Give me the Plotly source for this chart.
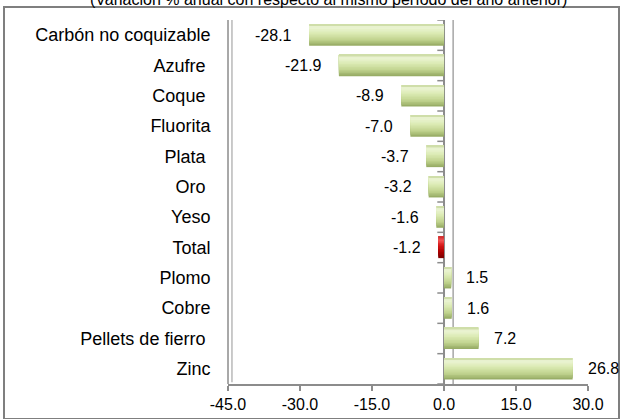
import plotly.graph_objects as go

categories = ["Carbón no coquizable", "Azufre ", "Coque ", "Fluorita", "Plata ", "Oro ",
              "Yeso", "Total", "Plomo", "Cobre", "Pellets de fierro ", "Zinc"]
values = [-28.1, -21.9, -8.9, -7.0, -3.7, -3.2, -1.6, -1.2, 1.5, 1.6, 7.2, 26.8]
x_ticks = [-45.0, -30.0, -15.0, 0.0, 15.0, 30.0]
title_text = "(Variación % anual con respecto al mismo período del año anterior)"

FONT = "Liberation Sans, Arial, sans-serif"
FS_CAT = 18
FS_NUM = 16

# vertical gradient stops (position from top, colour) for cylinder look
green_stops = [(0.0, (195, 212, 150)), (0.12, (236, 245, 214)), (0.4, (220, 235, 180)),
               (0.72, (192, 211, 142)), (1.0, (146, 168, 96))]
red_stops = [(0.0, (200, 40, 40)), (0.15, (245, 90, 90)), (0.4, (215, 25, 25)),
             (0.7, (175, 0, 0)), (1.0, (120, 0, 0))]


def interp(stops, t):
    for (p0, c0), (p1, c1) in zip(stops[:-1], stops[1:]):
        if p0 <= t <= p1:
            f = (t - p0) / (p1 - p0) if p1 > p0 else 0
            c = [round(a + (b - a) * f) for a, b in zip(c0, c1)]
            return "rgb(%d,%d,%d)" % tuple(c)
    return "rgb(%d,%d,%d)" % stops[-1][1]


idx = list(range(len(categories)))
W = 0.7
N = 14
fig = go.Figure()
# transparent helper trace so the outer frame subplot (x/y) exists
fig.add_trace(go.Scatter(x=[0.5], y=[0.5], xaxis="x", yaxis="y", mode="markers",
                         marker=dict(opacity=0), showlegend=False, hoverinfo="skip"))
for k in range(N):
    t = (N - k - 0.5) / N
    cols = [interp(red_stops if c.strip() == "Total" else green_stops, t) for c in categories]
    fig.add_trace(go.Bar(
        x=values, y=idx, orientation="h", xaxis="x2", yaxis="y2",
        width=W * (N - k) / N, offset=-W / 2,
        marker=dict(color=cols, line=dict(width=0)),
        hoverinfo="skip" if k else "x+y", showlegend=False,
    ))

# data labels
for i, v in enumerate(values):
    fig.add_annotation(
        x=v, y=i, xref="x2", yref="y2", text="%.1f" % v, showarrow=False,
        xanchor="right" if v < 0 else "left", xshift=-15 if v < 0 else 13,
        font=dict(family=FONT, size=FS_NUM, color="black"),
    )

shapes = []
gray = "#8c8c8c"
# zero wall lines
shapes.append(dict(type="line", xref="x2", yref="y2 domain", x0=0, x1=0, y0=0, y1=1,
                   line=dict(color=gray, width=2), layer="below"))
shapes.append(dict(type="line", xref="x2", yref="y2 domain", x0=1.9, x1=1.9, y0=0, y1=1,
                   line=dict(color="#a6a6a6", width=1.5), layer="below"))
# small ticks on the zero line between categories
for i in range(len(categories) + 1):
    shapes.append(dict(type="line", xref="x2", yref="y2", x0=-1.4, x1=0, y0=i - 0.5, y1=i - 0.5,
                       line=dict(color=gray, width=1.5), layer="below"))
# double line on left edge of plot
shapes.append(dict(type="line", xref="x2 domain", yref="y2 domain", x0=0, x1=0, y0=0, y1=1,
                   line=dict(color=gray, width=1.5), layer="below"))
shapes.append(dict(type="line", xref="x2 domain", yref="y2 domain", x0=0.011, x1=0.011, y0=0.005, y1=1,
                   line=dict(color="#a6a6a6", width=1.2), layer="below"))

fig.add_annotation(x=0.527, y=1.02, xref="paper", yref="paper", text=title_text, showarrow=False,
                   xanchor="center", yanchor="middle",
                   font=dict(family=FONT, size=16, color="black"))

fig.update_layout(
    width=623, height=419,
    margin=dict(l=5, r=5, t=8, b=1, autoexpand=False),
    paper_bgcolor="white", plot_bgcolor="rgba(0,0,0,0)",
    barmode="overlay",
    shapes=shapes,
    # outer frame
    xaxis=dict(domain=[0, 1], range=[0, 1], showline=True, mirror=True, linecolor="#7f7f7f",
               linewidth=1.5, showgrid=False, zeroline=False, showticklabels=False, ticks="",
               fixedrange=True),
    yaxis=dict(domain=[0, 1], range=[0, 1], showline=True, mirror=True, linecolor="#7f7f7f",
               linewidth=1.5, showgrid=False, zeroline=False, showticklabels=False, ticks="",
               fixedrange=True),
    # chart axes
    xaxis2=dict(domain=[0.3638, 0.9511], anchor="y2", range=[-45, 30], tickvals=x_ticks,
                ticktext=["%.1f" % t for t in x_ticks],
                showgrid=False, zeroline=False, showline=True, linecolor=gray, linewidth=2,
                ticks="outside", ticklen=5, tickcolor=gray, tickwidth=1.5, automargin=False,
                tickfont=dict(family=FONT, size=FS_NUM, color="black")),
    yaxis2=dict(domain=[0.0829, 0.9707], anchor="x2", range=[len(categories) - 0.5, -0.5],
                tickvals=idx, ticktext=categories,
                showgrid=False, zeroline=False, showline=False, automargin=False,
                ticks="outside", ticklen=13, tickcolor="rgba(0,0,0,0)",
                tickfont=dict(family=FONT, size=FS_CAT, color="black")),
)

fig.write_html("out.html", config={"displayModeBar": False},
               post_script="document.body.style.margin='0';document.body.style.overflow='hidden';")
